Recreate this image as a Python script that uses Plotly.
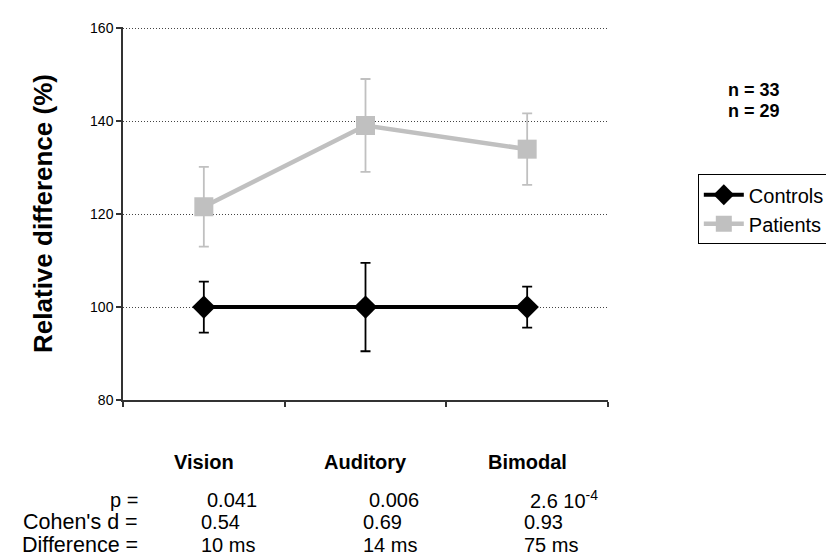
import plotly.graph_objects as go

categories = ["Vision", "Auditory", "Bimodal"]
controls = [100, 100, 100]
controls_err = [5.5, 9.5, 4.4]
patients = [121.6, 139.1, 134.0]
patients_err = [8.6, 10.0, 7.7]
n_labels = ["n = 33", "n = 29"]
row_labels = ["p =", "Cohen's d =", "Difference ="]
p_values = ["0.041", "0.006", "2.6 10<sup>-4</sup>"]
cohen_d = ["0.54", "0.69", "0.93"]
differences = ["10 ms", "14 ms", "75 ms"]

FONT = "Liberation Sans, Arial, sans-serif"
PATIENT_GRAY = "#c0c0c0"

fig = go.Figure()
fig.add_trace(go.Scatter(
    x=categories, y=controls, name="Controls", mode="lines+markers",
    line=dict(color="black", width=4),
    marker=dict(symbol="diamond", size=18, color="black"),
    error_y=dict(type="data", array=controls_err, color="black", thickness=1.8, width=5),
))
fig.add_trace(go.Scatter(
    x=categories, y=patients, name="Patients", mode="lines+markers",
    line=dict(color=PATIENT_GRAY, width=4.5),
    marker=dict(symbol="square", size=19, color=PATIENT_GRAY),
    error_y=dict(type="data", array=patients_err, color=PATIENT_GRAY, thickness=1.8, width=5),
))

annotations = []
for c in categories:
    annotations.append(dict(x=c, xref="x", y=-0.166, yref="paper", text=f"<b>{c}</b>",
                            showarrow=False, font=dict(size=20, color="black", family=FONT),
                            xanchor="center", yanchor="middle"))
rows = [p_values, cohen_d, differences]
row_y = [-0.267, -0.328, -0.388]
row_shift = [1, -5, -5]
label_sizes = [20, 21.5, 21.5]
for label, vals, yy, sh, ls in zip(row_labels, rows, row_y, row_shift, label_sizes):
    annotations.append(dict(x=0.036, xref="x domain", y=yy, yref="paper",
                            text=label, showarrow=False,
                            font=dict(size=ls, color="black", family=FONT),
                            xanchor="right", yanchor="middle"))
    for c, v in zip(categories, vals):
        annotations.append(dict(x=c, xref="x", y=yy, yref="paper", text=v, showarrow=False,
                                font=dict(size=20, color="black", family=FONT),
                                xanchor="left", yanchor="middle", xshift=sh))
n_y = [84, 106]
for t, py in zip(n_labels, n_y):
    annotations.append(dict(x=(727 - 123) / 486, xref="paper", y=(400 - py) / 380, yref="paper",
                            text=f"<b>{t}</b>", showarrow=False,
                            font=dict(size=18, color="black", family=FONT),
                            xanchor="left", yanchor="middle"))

fig.update_layout(
    width=834, height=560,
    margin=dict(l=115, r=233, t=12, b=168),
    plot_bgcolor="white", paper_bgcolor="white",
    font=dict(family=FONT, color="black", size=14),
    showlegend=True,
    legend=dict(x=(699 - 123) / 486, y=(400 - 170) / 380, xanchor="left", yanchor="top",
                bordercolor="black", borderwidth=1, bgcolor="white",
                font=dict(size=20, family=FONT), itemwidth=40),
    annotations=annotations,
)
fig.update_xaxes(
    range=[-0.5, 2.5], showticklabels=False, ticks="outside", tickson="boundaries",
    ticklen=5, tickcolor="#333", tickwidth=1.5, showline=True, linecolor="#333", linewidth=1.5,
    showgrid=False, zeroline=False,
)
fig.update_yaxes(
    range=[80, 160.3], tickvals=[80, 100, 120, 140, 160], ticks="outside", ticklen=5,
    tickcolor="#333", tickwidth=1.5,
    showline=True, linecolor="#333", linewidth=1.5,
    showgrid=True, gridcolor="#444", griddash="1px,2px", gridwidth=1, zeroline=False,
    tickfont=dict(size=14, family=FONT),
    title=dict(text="<b>Relative difference (%)</b>", font=dict(size=26, family=FONT), standoff=30),
)
fig.write_html("out.html")
